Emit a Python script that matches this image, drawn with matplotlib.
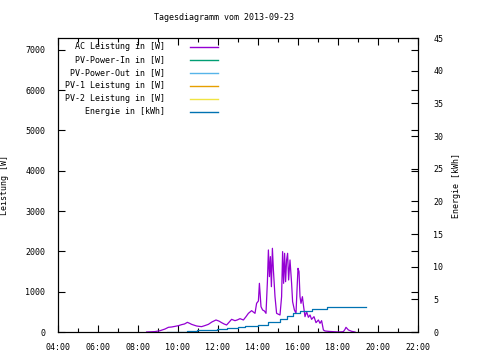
import numpy as np
import matplotlib
matplotlib.use("Agg")
import matplotlib.pyplot as plt
from matplotlib.ticker import MultipleLocator, FuncFormatter

plt.rcParams['font.family'] = ['DejaVu Sans Mono']
plt.rcParams['font.size'] = 6

# ---------------- data (hours of day, W / kWh) ----------------
ac_time = [8.43, 8.85, 9.10, 9.35, 9.52, 9.68, 9.85, 10.02, 10.18, 10.33, 10.47, 10.58, 10.68,
           10.80, 10.93, 11.05, 11.18, 11.35, 11.52, 11.70, 11.90, 12.05, 12.18, 12.30, 12.43,
           12.55, 12.68, 12.85, 12.97, 13.10, 13.27, 13.40, 13.52, 13.68, 13.85, 13.93, 14.02,
           14.07, 14.15, 14.23, 14.32, 14.40, 14.47, 14.52, 14.57, 14.62, 14.67, 14.72, 14.77,
           14.85, 14.93, 15.02, 15.10, 15.18, 15.23, 15.28, 15.33, 15.38, 15.43, 15.48, 15.53,
           15.60, 15.68, 15.73, 15.82, 15.90, 15.95, 16.00, 16.05, 16.10, 16.15, 16.22, 16.27,
           16.35, 16.43, 16.52, 16.60, 16.68, 16.80, 16.90, 17.02, 17.10, 17.18, 17.27, 17.35,
           17.55, 17.77, 18.02, 18.27, 18.35, 18.40, 18.52, 18.68, 18.85]
ac_power = [0, 10, 32, 74, 116, 124, 140, 157, 182, 200, 240, 215, 190,
            170, 149, 140, 133, 160, 190, 250, 298, 270, 232, 200, 174,
            240, 314, 281, 300, 331, 298, 380, 463, 529, 463, 711, 769,
            1207, 628, 546, 521, 463, 1248, 2034, 1373, 1869, 1124, 2075, 1538,
            876, 463, 440, 422, 876, 1993, 1207, 1951, 1248, 1786, 1951, 1290,
            1786, 1207, 752, 546, 463, 1041, 1579, 1497, 876, 711, 876, 670,
            380, 504, 364, 422, 314, 380, 232, 298, 215, 281, 50, 25,
            15, 8, 0, 8, 66, 116, 50, 17, 0]

en_time = [9.43, 10.47, 10.93, 11.93, 12.43, 13.02, 13.35, 14.02, 14.52, 15.10, 15.43,
           15.77, 16.10, 16.68, 17.43, 19.38]
energy = [0.0, 0.15, 0.25, 0.46, 0.61, 0.77, 0.87, 1.12, 1.53, 2.04, 2.45,
          2.91, 3.27, 3.57, 3.78, 3.78]

series_names = ['AC Leistung in [W]', 'PV-Power-In in [W]', 'PV-Power-Out in [W]',
                'PV-1 Leistung in [W]', 'PV-2 Leistung in [W]', 'Energie in [kWh]']
series_colors = ['#9400d3', '#009e73', '#56b4e9', '#e69f00', '#f0e442', '#0072b2']

# ---------------- figure ----------------
fig = plt.figure(figsize=(4.8, 3.6), dpi=100)
ax = fig.add_axes([58/480, 1-332/360, 360/480, 294/360])
ax2 = ax.twinx()

lw = 0.9
ax.plot(ac_time, ac_power, color=series_colors[0], lw=lw)
# empty PV series (no data that day)
for c in series_colors[1:5]:
    ax.plot([], [], color=c, lw=lw)
ax2.plot(en_time, energy, color=series_colors[5], lw=lw, drawstyle='steps-post')

ax.set_xlim(4, 22)
ax.set_ylim(0, 7290)
ax2.set_ylim(0, 45)

ax.xaxis.set_major_locator(MultipleLocator(2))
ax.xaxis.set_minor_locator(MultipleLocator(1))
ax.xaxis.set_major_formatter(FuncFormatter(lambda v, p: "%02d:00" % int(round(v))))
ax.yaxis.set_major_locator(MultipleLocator(1000))
ax2.yaxis.set_major_locator(MultipleLocator(5))

ax.tick_params(axis='x', which='both', direction='in', top=True, bottom=True, pad=8)
ax.tick_params(axis='x', which='major', length=5, width=0.8)
ax.tick_params(axis='x', which='minor', length=3, width=0.8)
ax.tick_params(axis='y', which='major', direction='in', left=True, right=True, length=5, width=0.8, pad=9)
ax2.tick_params(axis='y', direction='in', length=5, width=0.8, pad=11)
for lab in ax2.get_yticklabels():
    lab.set_horizontalalignment('left')

for a in (ax, ax2):
    for s in a.spines.values():
        s.set_linewidth(0.8)
        s.set_color('black')

ax.set_ylabel('Leistung [W]')
ax.yaxis.set_label_coords(-49/360, 0.5)
ax2.set_ylabel('Energie [kWh]')
ax2.yaxis.set_label_coords(1 + 34/360, 0.5)
fig.text(224/480, 1-18/360, 'Tagesdiagramm vom 2013-09-23', ha='center', va='center')

# legend, gnuplot style: right-aligned text, sample line to the right
for i, (name, c) in enumerate(zip(series_names, series_colors)):
    yf = 1 - (8.5 + 13*i) / 294
    ax.text(107/360, yf, name, transform=ax.transAxes, ha='right', va='center')
    ax.plot([132/360, 160/360], [yf, yf], transform=ax.transAxes, color=c, lw=1.0)

fig.savefig('out.png', dpi=100)
